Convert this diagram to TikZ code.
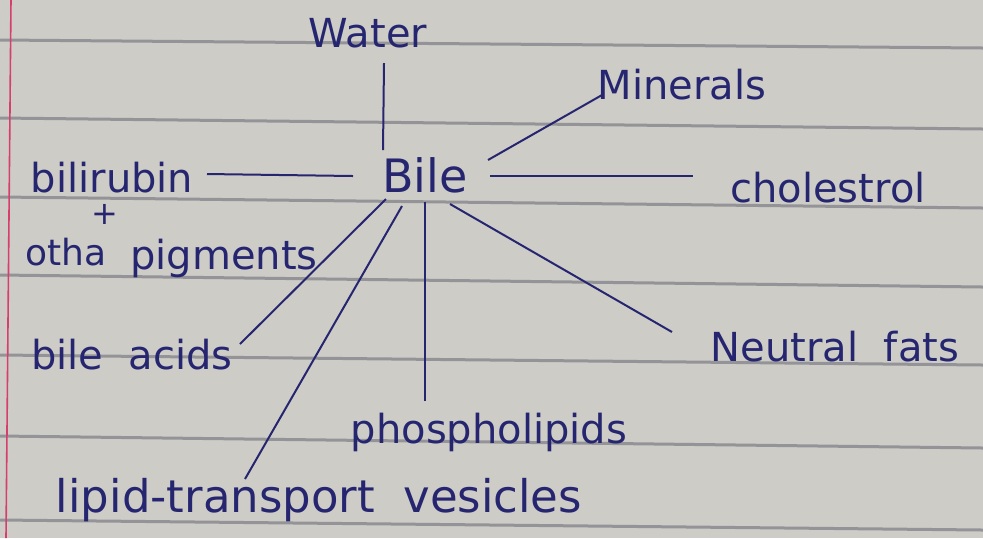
\documentclass[tikz,border=0pt]{standalone}
\usepackage{fontspec}
\setmainfont{DejaVu Sans}
\definecolor{paper}{RGB}{206,204,199}
\definecolor{rule}{RGB}{148,148,152}
\definecolor{margin}{RGB}{214,62,110}
\definecolor{ink}{RGB}{38,38,112}
\tikzset{
  word/.style={text=ink, inner sep=0pt, font=\fontsize{20}{24}\selectfont},
  link/.style={draw=ink, line width=1pt}
}
\begin{document}
\begin{tikzpicture}[x=0.5pt,y=-0.5pt]
\useasboundingbox (0,0) rectangle (983,538);
\fill[paper] (0,0) rectangle (983,538);
% ruled lines of the page
\draw[rule, line width=1.5pt] (0,40) -- (983,48);
\draw[rule, line width=1.5pt] (0,118) -- (983,129);
\draw[rule, line width=1.5pt] (0,197) -- (983,208);
\draw[rule, line width=1.5pt] (0,275) -- (983,287);
\draw[rule, line width=1.5pt] (0,355) -- (983,365);
\draw[rule, line width=1.5pt] (0,436) -- (983,448);
\draw[rule, line width=1.5pt] (0,520) -- (983,530);
\draw[margin, line width=0.8pt] (11,0) -- (6,538);

\node[word, font=\fontsize{23}{27}\selectfont] (bile) at (425,175) {Bile};
\node[word] (water) at (368,33) {Water};
\node[word] (minerals) at (682,85) {Minerals};
\node[word] (cholestrol) at (828,188) {cholestrol};
\node[word] (bilirubin) at (112,178) {bilirubin};
\node[word, font=\fontsize{16}{18}\selectfont] (plus) at (105,214) {+};
\node[word, font=\fontsize{18}{22}\selectfont] (otha) at (66,252) {otha};
\node[word] (pigments) at (224,258) {pigments};
\node[word] (acids) at (132,355) {bile \ acids};
\node[word] (fats) at (835,347) {Neutral \ fats};
\node[word] (phospho) at (489,432) {phospholipids};
\node[word, font=\fontsize{22.5}{27}\selectfont] (vesicles) at (319,500) {lipid-transport \ vesicles};

\draw[link] ([shift={(16,30)}]water.center) -- ([shift={(-42,-25)}]bile.center);
\draw[link] ([shift={(63,-15)}]bile.center) -- ([shift={(-80,10)}]minerals.center);
\draw[link] ([shift={(65,1)}]bile.center) -- ([shift={(-135,-12)}]cholestrol.center);
\draw[link] ([shift={(95,-4)}]bilirubin.center) -- ([shift={(-72,1)}]bile.center);
\draw[link] ([shift={(108,-11)}]acids.center) -- ([shift={(-39,24)}]bile.center);
\draw[link] ([shift={(-74,-21)}]vesicles.center) -- ([shift={(-23,31)}]bile.center);
\draw[link] ([shift={(-64,-31)}]phospho.center) -- ([shift={(0,27)}]bile.center);
\draw[link] ([shift={(-163,-15)}]fats.center) -- ([shift={(25,29)}]bile.center);
\end{tikzpicture}
\end{document}
